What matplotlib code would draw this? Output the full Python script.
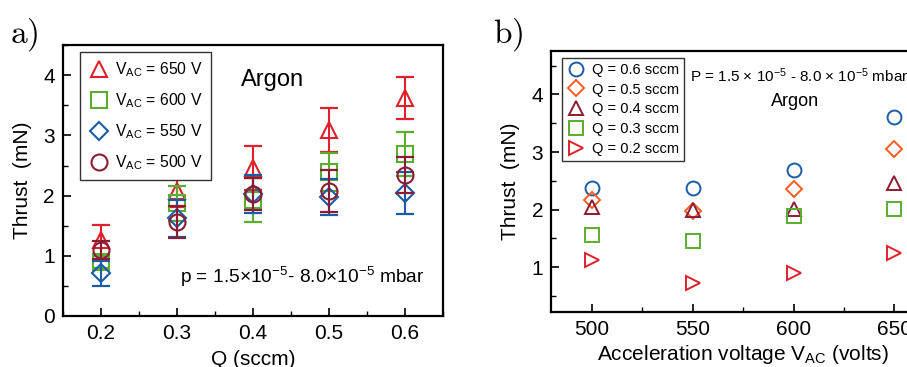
import matplotlib
matplotlib.use("Agg")
import matplotlib.pyplot as plt
from matplotlib.ticker import MultipleLocator

plt.rcParams['font.family'] = ['Liberation Sans', 'DejaVu Sans']
plt.rcParams['mathtext.default'] = 'regular'

# Panel a: thrust vs flow rate, one series per acceleration voltage
flow_q = [0.2, 0.3, 0.4, 0.5, 0.6]
voltage_labels = ["V$_{AC}$ = 650 V", "V$_{AC}$ = 600 V", "V$_{AC}$ = 550 V", "V$_{AC}$ = 500 V"]
thrust_650 = [1.26, 2.08, 2.46, 3.09, 3.62]
err_650 = [0.25, 0.27, 0.36, 0.36, 0.35]
thrust_600 = [0.90, 1.87, 1.93, 2.39, 2.69]
err_600 = [0.10, 0.29, 0.37, 0.32, 0.37]
thrust_550 = [0.71, 1.62, 2.03, 1.97, 2.05]
err_550 = [0.21, 0.30, 0.32, 0.30, 0.35]
thrust_500 = [1.10, 1.56, 2.03, 2.07, 2.34]
err_500 = [0.15, 0.26, 0.27, 0.35, 0.30]

# Panel b: thrust vs acceleration voltage, one series per flow rate
voltages = [500, 550, 600, 650]
flow_labels = ["Q = 0.6 sccm", "Q = 0.5 sccm", "Q = 0.4 sccm", "Q = 0.3 sccm", "Q = 0.2 sccm"]
thrust_q06 = [2.37, 2.38, 2.68, 3.61]
thrust_q05 = [2.17, 1.98, 2.35, 3.05]
thrust_q04 = [2.04, 2.00, 2.01, 2.46]
thrust_q03 = [1.56, 1.46, 1.89, 2.01]
thrust_q02 = [1.12, 0.73, 0.90, 1.25]

RED = '#e0202a'
GREEN = '#5aad2f'
BLUE = '#1a5ca8'
DARKRED = '#8c1c32'
ORANGE = '#ff5a1f'

fig = plt.figure(figsize=(9.07, 3.67), dpi=100)


def style_axes(ax):
    for sp in ax.spines.values():
        sp.set_linewidth(1.6)
    ax.tick_params(which='both', direction='in', top=False, right=False, labelsize=15)
    ax.tick_params(which='major', length=6, width=1.2, pad=6)
    ax.tick_params(which='minor', length=3.5, width=1.0)


# ---- panel a ----
ax1 = fig.add_axes([0.0695, 0.139, 0.419, 0.738])
series_a = [
    (thrust_650, err_650, '^', RED, 12),
    (thrust_600, err_600, 's', GREEN, 11),
    (thrust_550, err_550, 'D', BLUE, 9.5),
    (thrust_500, err_500, 'o', DARKRED, 11.5),
]
handles = []
for (vals, errs, mk, col, ms), lab in zip(series_a, voltage_labels):
    ax1.errorbar(flow_q, vals, yerr=errs, fmt='none', ecolor=col, elinewidth=1.5,
                 capsize=6.5, capthick=1.6)
    h, = ax1.plot(flow_q, vals, linestyle='none', marker=mk, markersize=ms,
                  markerfacecolor='none', markeredgecolor=col, markeredgewidth=1.5,
                  label=lab)
    handles.append(h)

ax1.set_xlim(0.15, 0.65)
ax1.set_ylim(0, 4.5)
ax1.xaxis.set_major_locator(MultipleLocator(0.1))
ax1.xaxis.set_minor_locator(MultipleLocator(0.05))
ax1.yaxis.set_major_locator(MultipleLocator(1))
ax1.yaxis.set_minor_locator(MultipleLocator(0.5))
style_axes(ax1)
ax1.set_xlabel("Q (sccm)", fontsize=15, labelpad=4.5)
ax1.set_ylabel("Thrust  (mN)", fontsize=15, labelpad=8)
leg1 = ax1.legend(handles=handles, loc='upper left', bbox_to_anchor=(0.045, 0.974),
                  fontsize=11.3, frameon=True, fancybox=False, edgecolor='#333333',
                  framealpha=1, labelspacing=0.8, handletextpad=0.35,
                  borderpad=0.5, handlelength=1.4, borderaxespad=0)
leg1.get_frame().set_linewidth(1.0)
ax1.text(0.425, 3.92, "Argon", fontsize=17, ha='center', va='center')
ax1.text(0.304, 0.65, "p = 1.5×10$^{-5}$- 8.0×10$^{-5}$ mbar", fontsize=13.8,
         ha='left', va='center')

# ---- panel b (cropped at the right edge like the original) ----
ax2 = fig.add_axes([0.608, 0.1507, 0.4226, 0.710])
series_b = [
    (thrust_q06, 'o', BLUE, 10),
    (thrust_q05, 'D', ORANGE, 8),
    (thrust_q04, '^', DARKRED, 9.5),
    (thrust_q03, 's', GREEN, 9.5),
    (thrust_q02, '>', RED, 9.5),
]
for (vals, mk, col, ms), lab in zip(series_b, flow_labels):
    ax2.plot(voltages, vals, linestyle='none', marker=mk, markersize=ms,
             markerfacecolor='none', markeredgecolor=col, markeredgewidth=1.4,
             label=lab)

ax2.set_xlim(480, 670)
ax2.set_ylim(0.23, 4.75)
ax2.xaxis.set_major_locator(MultipleLocator(50))
ax2.xaxis.set_minor_locator(MultipleLocator(25))
ax2.yaxis.set_major_locator(MultipleLocator(1))
ax2.yaxis.set_minor_locator(MultipleLocator(0.5))
style_axes(ax2)
ax2.set_xlabel("Acceleration voltage V$_{AC}$ (volts)", fontsize=15, labelpad=3)
ax2.set_ylabel("Thrust  (mN)", fontsize=15, labelpad=8)
leg2 = ax2.legend(loc='upper left', bbox_to_anchor=(0.028, 0.975), fontsize=10.5,
                  frameon=True, fancybox=False, edgecolor='#333333', framealpha=1,
                  labelspacing=0.4, handletextpad=0.5, borderpad=0.35,
                  handlelength=1.2, borderaxespad=0)
leg2.get_frame().set_linewidth(1.0)
ax2.text(548.5, 4.32, "P = 1.5 × 10$^{-5}$ - 8.0 × 10$^{-5}$ mbar", fontsize=11,
         ha='left', va='center')
ax2.text(600.5, 3.87, "Argon", fontsize=13, ha='center', va='center')

# panel letters
fig.text(0.011, 0.885, r'$\mathrm{a)}$', fontsize=24, math_fontfamily='cm')
fig.text(0.543, 0.885, r'$\mathrm{b)}$', fontsize=24, math_fontfamily='cm')

fig.savefig("out.png", dpi=100)
